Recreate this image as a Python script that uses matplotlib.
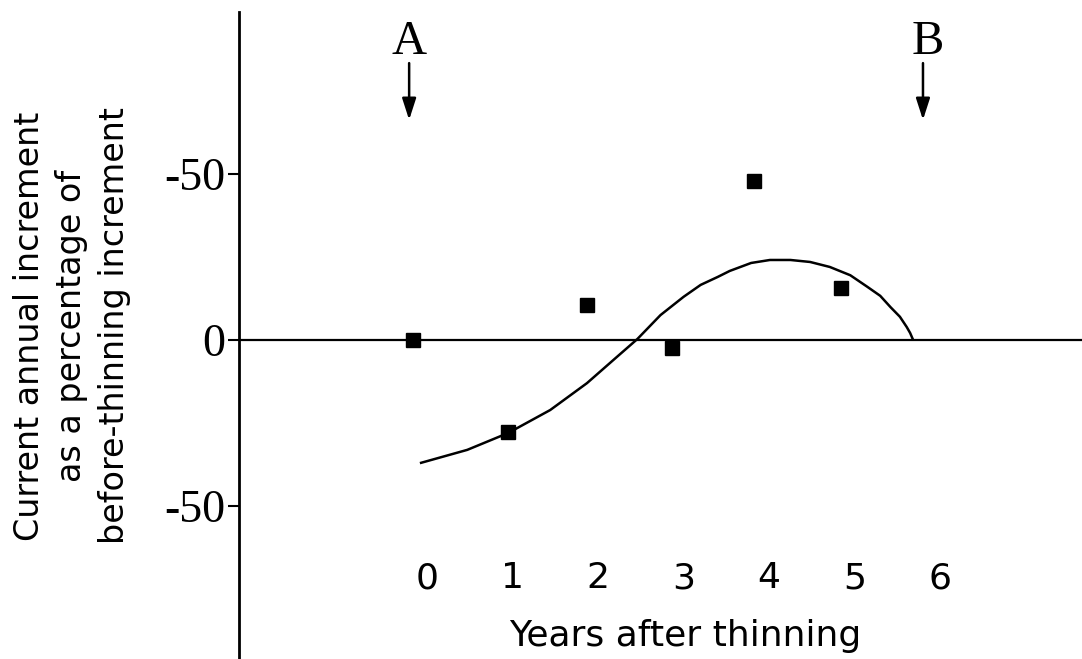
import matplotlib
matplotlib.use("Agg")
import matplotlib.pyplot as plt

# Data
years_pts = [-0.16, 0.95, 1.87, 2.87, 3.82, 4.84]
pct_pts = [0.0, -27.7, 10.5, -2.4, 47.9, 15.7]

curve_x = [-0.07, 0.47, 0.95, 1.44, 1.87, 2.22, 2.46, 2.73, 3.00, 3.20, 3.40,
           3.54, 3.79, 4.01, 4.25, 4.48, 4.71, 4.95, 5.15, 5.30, 5.42, 5.53,
           5.61, 5.65, 5.68]
curve_y = [-37.0, -33.1, -28.0, -21.1, -13.0, -5.1, 0.3, 7.5, 13.0, 16.6, 19.0,
           20.8, 23.2, 24.1, 24.1, 23.5, 22.0, 19.5, 16.0, 13.3, 9.9, 7.0,
           3.9, 2.1, 0.3]

x_ticks = [0, 1, 2, 3, 4, 5, 6]
x_tick_labels = ["0", "1", "2", "3", "4", "5", "6"]
y_ticks = [50, 0, -50]
y_tick_labels = ["-50", "0", "-50"]

W, H = 1082, 659
fig = plt.figure(figsize=(W / 100, H / 100), dpi=100)
ax = fig.add_axes([239 / W, 0, (W - 239) / W, (H - 12) / H])
ax.set_xlim(-2.20, 7.66)
ax.set_ylim(-96.1, 98.8)

for s in ["top", "right", "bottom"]:
    ax.spines[s].set_visible(False)
ax.spines["left"].set_linewidth(2.0)

ax.set_xticks([])
ax.set_yticks(y_ticks)
ax.set_yticklabels(y_tick_labels, fontfamily="Liberation Serif", fontsize=33)
ax.tick_params(axis="y", length=8, width=1.5, pad=2)

ax.axhline(0, color="black", lw=1.6, zorder=1)
ax.plot(curve_x, curve_y, color="black", lw=1.8, zorder=2,
        solid_joinstyle="round")
ax.plot(years_pts, pct_pts, "s", color="black", markersize=10.5, zorder=3)

for x, lab in zip(x_ticks, x_tick_labels):
    ax.text(x, -71.7, lab, ha="center", va="center", fontsize=26,
            fontfamily="DejaVu Sans")
ax.text(3.02, -89.2, "Years after thinning", ha="center", va="center",
        fontsize=26, fontfamily="DejaVu Sans")

fig.text(72 / W, 1 - 326 / H,
         "Current annual increment\nas a percentage of\nbefore-thinning increment",
         rotation=90, ha="center", va="center", multialignment="center",
         fontsize=24, fontfamily="DejaVu Sans", linespacing=1.38)

arrow_kw = dict(arrowstyle="-|>,head_length=1.3,head_width=0.42", color="black",
                lw=1.8, shrinkA=0, shrinkB=0)
ax.text(-0.21, 89.8, "A", ha="center", va="center", fontsize=35,
        fontfamily="Liberation Serif")
ax.annotate("", xy=(-0.21, 66.3), xytext=(-0.21, 83.4), arrowprops=arrow_kw)
ax.text(5.85, 89.8, "B", ha="center", va="center", fontsize=35,
        fontfamily="Liberation Serif")
ax.annotate("", xy=(5.80, 66.3), xytext=(5.80, 83.4), arrowprops=arrow_kw)

fig.savefig("out.png", dpi=100)
